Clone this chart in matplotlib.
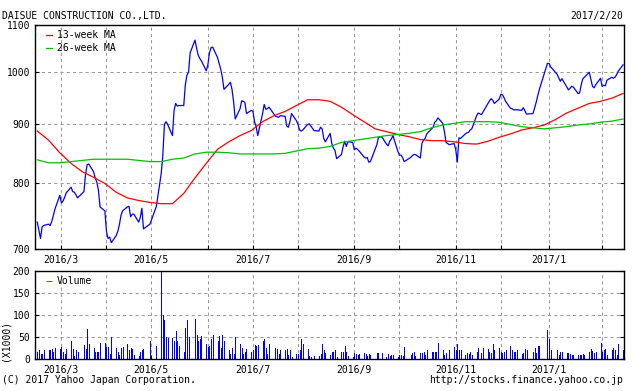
import numpy as np
import pandas as pd
import matplotlib
matplotlib.use("Agg")
import matplotlib.pyplot as plt
from matplotlib.ticker import FixedLocator, FixedFormatter, NullLocator

BLUE = "#0000ff"; RED = "#ff0000"; GREEN = "#00c000"; GRID = "#999999"
MONO = "DejaVu Sans Mono"

# Tokyo market holidays inside the window
holidays = ["2016-03-21", "2016-04-29", "2016-05-03", "2016-05-04", "2016-05-05",
            "2016-07-18", "2016-08-11", "2016-09-19", "2016-09-22", "2016-10-10",
            "2016-11-03", "2016-11-23", "2016-12-23", "2017-01-02", "2017-01-03",
            "2017-01-09"]

# daily close, one line per week
close = [
    739, 727, 715, 732, 734,
    736, 734, 740, 749, 759,
    780, 768, 771, 777, 784,
    793, 786, 785, 781, 776,
    786, 814, 830, 831,
    818, 808, 801, 788, 762,
    756, 725, 715, 717, 709,
    719, 725, 735, 749, 756,
    762, 763, 747, 751, 751,
    739, 746, 760, 729,
    736, 763,
    815, 845, 900, 905, 900,
    880, 926, 939, 934, 935,
    935, 975, 994, 1000, 1040,
    1067, 1050, 1035, 1028, 1023,
    1003, 1015, 1040, 1051, 1052,
    1030, 1018, 1006, 990, 966,
    976, 980, 966, 942, 910,
    929, 944, 943, 941, 920,
    926, 924, 905, 896, 880,
    920, 937, 928, 929, 932,
    915, 914, 913, 916,
    915, 897, 895, 905, 920,
    907, 900, 890, 888, 890,
    900, 901, 897, 889,
    888, 895, 892, 875, 869,
    884, 866, 858, 854, 840,
    847, 860, 870, 861, 869,
    868, 855, 858, 856, 853,
    843, 841, 842, 834, 835,
    864, 877, 878,
    865, 862, 870, 874, 880,
    853, 846, 846, 842, 835,
    842, 845, 847, 847,
    841, 866, 872, 875, 883,
    892, 895, 904, 907, 912,
    902, 887, 868, 864,
    866, 856, 834, 876, 875,
    883, 885, 886, 890, 892,
    916, 921, 918, 923,
    939, 944, 948, 945, 939,
    947, 956, 956, 950, 943,
    930, 929, 927, 927, 927,
    926, 931, 925, 919,
    920, 930, 941, 954, 966,
    1018, 1018, 1011,
    996, 989, 982, 987,
    971, 965, 968, 972, 971,
    958, 959, 975, 987, 990,
    1000, 986, 972, 969, 975,
    988, 972, 974, 973, 984,
    990, 988, 990, 995, 1002,
    1015,
]

# daily volume (x1000 shares)
volume = [
    17, 20, 12, 12, 20,
    20, 20, 23, 16, 25,
    22, 27, 16, 12, 23,
    40, 23, 7, 20, 17,
    31, 22, 69, 35,
    26, 17, 17, 16, 37,
    37, 27, 27, 12, 50,
    26, 17, 10, 26, 27,
    33, 20, 25, 23, 10,
    7, 17, 20, 23,
    40, 29,
    200, 101, 88, 50, 48,
    48, 42, 63, 40, 29,
    17, 71, 88, 50, 0,
    92, 55, 40, 46, 52,
    33, 27, 30, 46, 54,
    41, 52, 25, 54, 42,
    21, 12, 26, 12, 50,
    35, 25, 12, 17, 22,
    17, 20, 31, 30, 31,
    41, 45, 25, 12, 33,
    25, 23, 12, 21,
    20, 22, 10, 20, 5,
    12, 12, 20, 46, 33,
    23, 7, 5, 6,
    7, 12, 33, 21, 14,
    10, 17, 16, 20, 5,
    17, 16, 29, 17, 6,
    5, 14, 12, 10, 12,
    14, 11, 7, 12, 10,
    14, 14, 14,
    5, 12, 7, 10, 8,
    5, 10, 8, 7, 27,
    10, 14, 16, 7,
    14, 14, 16, 10, 20,
    17, 17, 17, 17, 37,
    21, 10, 14, 21,
    27, 20, 35, 21, 21,
    10, 14, 12, 16, 10,
    17, 26, 14, 26,
    23, 16, 14, 35, 20,
    26, 16, 14, 16, 21,
    30, 20, 17, 17, 20,
    12, 14, 23, 20,
    16, 26, 14, 30, 30,
    65, 45, 20,
    20, 10, 16, 17,
    14, 14, 12, 10, 10,
    10, 10, 10, 12, 10,
    16, 23, 18, 14, 17,
    37, 17, 20, 23, 10,
    21, 25, 20, 10, 33,
    20,
]

# moving averages, sampled each Monday
ma13 = [888, 872, 850, 832, 818, 809, 799, 785, 776, 772, 769, 767, 767,
        783, 808, 832, 856, 869, 880, 889, 905, 916, 924, 935, 946, 946,
        943, 932, 918, 905, 892, 887, 882, 878, 873, 871, 871, 869, 866,
        865, 870, 877, 883, 890, 894, 899, 909, 921, 930, 939, 943, 949, 958]
ma26 = [838, 833, 833, 835, 837, 839, 839, 839, 839, 837, 835, 835, 839,
        841, 848, 851, 851, 850, 848, 848, 848, 848, 849, 853, 857, 858,
        861, 868, 871, 874, 877, 880, 882, 884, 887, 894, 899, 902, 905,
        905, 905, 904, 900, 896, 894, 892, 894, 896, 899, 901, 904, 906, 910]

grid_days = ["2016-03-07", "2016-04-04", "2016-05-02", "2016-06-06", "2016-07-04",
             "2016-08-01", "2016-09-05", "2016-10-03", "2016-11-07", "2016-12-05",
             "2017-01-04", "2017-02-06"]
grid_labels = ["2016/3", "", "2016/5", "", "2016/7", "", "2016/9", "", "2016/11", "",
               "2017/1", ""]

days = pd.bdate_range("2016-02-22", "2017-02-20")
days = days[~days.isin(pd.to_datetime(holidays))]
weeks = pd.date_range("2016-02-22", "2017-02-20", freq="W-MON")
assert len(days) == len(close) == len(volume), (len(days), len(close), len(volume))
assert len(weeks) == len(ma13) == len(ma26)

gticks = pd.to_datetime(grid_days) + pd.Timedelta(hours=22)
xlim = (pd.Timestamp("2016-02-20 06:30"), pd.Timestamp("2017-02-20 14:00"))

fig = plt.figure(figsize=(6.33, 3.91), dpi=100)
ax = fig.add_axes([34.5 / 633, 1 - 249 / 391, 589.5 / 633, 224 / 391])
av = fig.add_axes([34.5 / 633, 1 - 359 / 391, 589.5 / 633, 88 / 391])

ax.plot(days, close, color=BLUE, lw=0.9)
l13, = ax.plot(weeks, ma13, color=RED, lw=0.9, label="13-week MA")
l26, = ax.plot(weeks, ma26, color=GREEN, lw=0.9, label="26-week MA")
ax.set_yscale("log")
ax.set_ylim(700, 1100)
ax.yaxis.set_major_locator(FixedLocator([700, 800, 900, 1000, 1100]))
ax.yaxis.set_major_formatter(FixedFormatter(["700", "800", "900", "1000", "1100"]))
ax.yaxis.set_minor_locator(NullLocator())
ax.legend(handles=[l13, l26], loc="upper left", bbox_to_anchor=(0.0195, 0.978),
          frameon=False, handlelength=0.65, handletextpad=0.45,
          labelspacing=0.35, borderpad=0, borderaxespad=0,
          prop={"family": MONO, "size": 7})

lv = av.vlines(days, 0, volume, colors=BLUE, lw=0.5, antialiased=False, label="Volume")
av.set_ylim(0, 200)
av.yaxis.set_major_locator(FixedLocator([0, 50, 100, 150, 200]))
av.legend(handles=[lv], loc="upper left", bbox_to_anchor=(0.0195, 0.94), frameon=False,
          handlelength=0.65, handletextpad=0.45, borderpad=0, borderaxespad=0,
          prop={"family": MONO, "size": 7})

for a in (ax, av):
    a.set_xlim(*xlim)
    a.xaxis.set_major_locator(FixedLocator([matplotlib.dates.date2num(t) for t in gticks]))
    a.xaxis.set_major_formatter(FixedFormatter(grid_labels))
    a.xaxis.set_minor_locator(NullLocator())
    a.grid(True, color=GRID, lw=0.75, ls=(0, (3, 3)))
    a.tick_params(axis="x", direction="in", length=3, pad=4, labelsize=7, colors="black")
    a.tick_params(axis="y", direction="in", length=3, pad=3, labelsize=7, right=True)
    for lab in a.get_xticklabels() + a.get_yticklabels():
        lab.set_family(MONO)
    for sp in a.spines.values():
        sp.set_color("black"); sp.set_linewidth(1.0)

fig.text(2 / 633, 1 - 15.5 / 391, "DAISUE CONSTRUCTION CO.,LTD.", family=MONO,
         fontsize=7, ha="left", va="center")
fig.text(623 / 633, 1 - 15.5 / 391, "2017/2/20", family=MONO, fontsize=7,
         ha="right", va="center")
fig.text(2 / 633, 1 - 380 / 391, "(C) 2017 Yahoo Japan Corporation.", family=MONO,
         fontsize=7, ha="left", va="center")
fig.text(623 / 633, 1 - 380 / 391, "http://stocks.finance.yahoo.co.jp", family=MONO,
         fontsize=7, ha="right", va="center")
fig.text(6 / 633, 1 - 340 / 391, "(X1000)", family=MONO, fontsize=7, rotation=90,
         ha="center", va="center")

fig.savefig("out.png", dpi=100, facecolor="white")
